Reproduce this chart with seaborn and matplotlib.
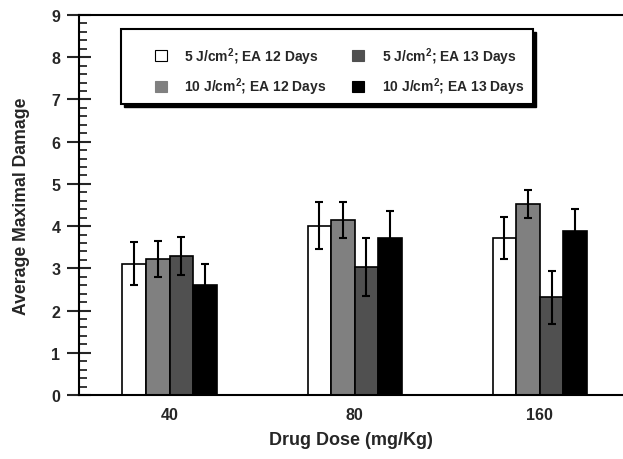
import matplotlib
matplotlib.use("Agg")
import matplotlib.pyplot as plt
import seaborn as sns
import pandas as pd
from matplotlib.patches import Patch, Rectangle
from matplotlib.ticker import MultipleLocator
from matplotlib.transforms import IdentityTransform
from matplotlib import font_manager

doses = ["40", "80", "160"]
series = ["5 J/cm$^2$; EA 12 Days", "10 J/cm$^2$; EA 12 Days",
          "5 J/cm$^2$; EA 13 Days", "10 J/cm$^2$; EA 13 Days"]
means_5_12 = [3.11, 4.01, 3.71]
means_10_12 = [3.22, 4.14, 4.52]
means_5_13 = [3.29, 3.04, 2.31]
means_10_13 = [2.60, 3.73, 3.89]
err_5_12 = [0.51, 0.55, 0.50]
err_10_12 = [0.43, 0.42, 0.33]
err_5_13 = [0.45, 0.69, 0.62]
err_10_13 = [0.50, 0.62, 0.51]
colors = ["#ffffff", "#808080", "#505050", "#000000"]

means = [means_5_12, means_10_12, means_5_13, means_10_13]
errs = [err_5_12, err_10_12, err_5_13, err_10_13]

rows = []
for s, m, e in zip(series, means, errs):
    for d, v, ev in zip(doses, m, e):
        rows.append({"dose": d, "series": s, "value": v, "err": ev})
df = pd.DataFrame(rows)

sns.set_theme(style="ticks")
names = {f.name for f in font_manager.fontManager.ttflist}
fam = ["Liberation Sans Narrow", "Liberation Sans", "DejaVu Sans"]
fam = [f for f in fam if f in names]
plt.rcParams["font.family"] = fam
plt.rcParams["font.weight"] = "bold"
plt.rcParams["mathtext.fontset"] = "custom"
plt.rcParams["mathtext.rm"] = fam[0] + ":bold"
plt.rcParams["mathtext.bf"] = fam[0] + ":bold"
plt.rcParams["mathtext.default"] = "bf"

W, H = 623, 460
fig = plt.figure(figsize=(W / 100, H / 100), dpi=100)
ax = fig.add_axes([79 / W, 1 - 396 / H, 1 - 79 / W, (396 - 16) / H])

sns.barplot(data=df, x="dose", y="value", hue="series", order=doses,
            hue_order=series, palette=colors, errorbar=None, width=0.51,
            edgecolor="black", linewidth=1.2, saturation=1, ax=ax, legend=False)

# error bars at bar centers
for container, s in zip(ax.containers, series):
    sub = df[df["series"] == s].set_index("dose").loc[doses]
    xs = [p.get_x() + p.get_width() / 2 for p in container.patches]
    ax.errorbar(xs, sub["value"].values, yerr=sub["err"].values, fmt="none",
                ecolor="black", elinewidth=1.5, capsize=3, capthick=1.5, zorder=5)

ax.set_ylim(0, 9)
ax.set_xlim(-0.49, 2.45)
ax.yaxis.set_major_locator(MultipleLocator(1))
ax.yaxis.set_minor_locator(MultipleLocator(0.2))
ax.tick_params(axis="y", which="major", direction="inout", length=17, width=1.5,
               labelsize=11.5, pad=5)
ax.tick_params(axis="y", which="minor", direction="in", length=6, width=1.3)
ax.tick_params(axis="x", length=0, labelsize=11.5, pad=9)
for lab in ax.get_xticklabels() + ax.get_yticklabels():
    lab.set_fontweight("bold")

for side in ["left", "bottom", "top"]:
    ax.spines[side].set_linewidth(1.5)
    ax.spines[side].set_color("black")
ax.spines["right"].set_visible(False)

ax.set_xlabel("Drug Dose (mg/Kg)", fontsize=13, fontweight="bold", labelpad=6)
ax.set_ylabel("Average Maximal Damage", fontsize=12.7, fontweight="bold", labelpad=15)

# legend frame with a solid drop shadow (pixel coordinates)
bx0, by0, bw, bh = 121, H - 105, 412, 75
fig.add_artist(Rectangle((bx0 + 3, by0 - 3), bw, bh, transform=IdentityTransform(),
                         facecolor="black", edgecolor="black", zorder=10))
fig.add_artist(Rectangle((bx0, by0), bw, bh, transform=IdentityTransform(),
                         facecolor="white", edgecolor="black", linewidth=1.5, zorder=11))

handles = [Patch(facecolor=c, edgecolor="black" if c == "#ffffff" else c, linewidth=0.8)
           for c in colors]
leg = fig.legend(handles, series, ncol=2, loc="upper left",
                 bbox_to_anchor=(155 / W, 1 - 46 / H), frameon=False,
                 fontsize=10, handlelength=0.86, handleheight=0.86,
                 handletextpad=1.25, columnspacing=1.85, labelspacing=0.65,
                 borderpad=0, borderaxespad=0)
leg.set_zorder(12)
for t in leg.get_texts():
    t.set_fontweight("bold")

fig.savefig("out.png", dpi=100)
